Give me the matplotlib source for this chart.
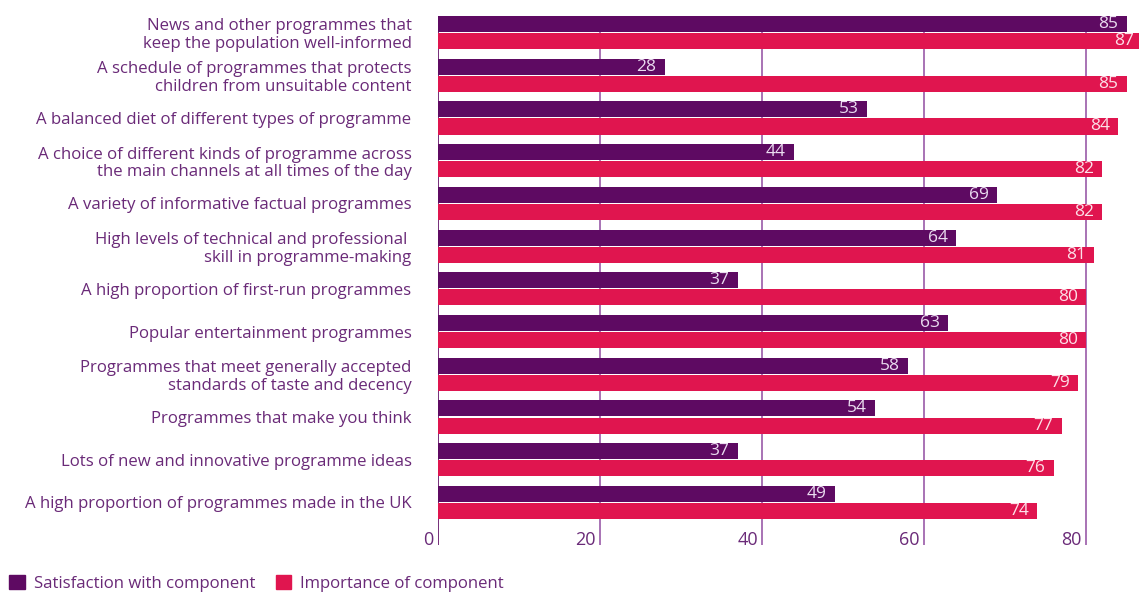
import numpy as np
import matplotlib.pyplot as plt
from matplotlib.patches import Patch

plt.rcParams['font.family'] = ['Open Sans', 'DejaVu Sans']

categories = [
    "News and other programmes that\nkeep the population well-informed",
    "A schedule of programmes that protects\nchildren from unsuitable content",
    "A balanced diet of different types of programme",
    "A choice of different kinds of programme across\nthe main channels at all times of the day",
    "A variety of informative factual programmes",
    "High levels of technical and professional \nskill in programme-making",
    "A high proportion of first-run programmes",
    "Popular entertainment programmes",
    "Programmes that meet generally accepted\nstandards of taste and decency",
    "Programmes that make you think",
    "Lots of new and innovative programme ideas",
    "A high proportion of programmes made in the UK",
]
satisfaction = [85, 28, 53, 44, 69, 64, 37, 63, 58, 54, 37, 49]
importance = [87, 85, 84, 82, 82, 81, 80, 80, 79, 77, 76, 74]
xticks = [0, 20, 40, 60, 80]

PURPLE = '#5e0a62'
PINK = '#e0154f'
TEXT = '#6a2a78'

W, H = 1139, 593
fig = plt.figure(figsize=(W / 100, H / 100), dpi=100)
ax = fig.add_axes([438 / W, 1 - 545 / H, 1 - 438 / W, (545 - 16) / H])

y = np.arange(len(categories))
h = 0.375
ax.barh(y - 0.2, satisfaction, height=h, color=PURPLE, zorder=2)
ax.barh(y + 0.2, importance, height=h, color=PINK, zorder=2)

for yi, v in zip(y, satisfaction):
    ax.annotate(str(v), (v, yi - 0.2), xytext=(-6, 0), textcoords='offset points',
                ha='right', va='center', color='#eadcf0', fontsize=12.5, zorder=3,
                annotation_clip=False)
for yi, v in zip(y, importance):
    ax.annotate(str(v), (v, yi + 0.2), xytext=(-6, 0), textcoords='offset points',
                ha='right', va='center', color='#fde0e8', fontsize=12.5, zorder=3,
                annotation_clip=False)

for t in xticks:
    ax.axvline(t, color='#9a5aa8' if t else PURPLE, lw=1.2, zorder=1)
    ax.annotate(str(t), (t, 0), xycoords=ax.get_xaxis_transform(), xytext=(-3, -3),
                textcoords='offset points', ha='right', va='bottom', color=TEXT, fontsize=13)

ax.set_xlim(0, (W - 438) / 8.1)
ax.set_ylim(11.995, -0.386)
ax.set_yticks(y)
ax.set_yticklabels(categories, color=TEXT, fontsize=12.1, linespacing=1.12)
ax.tick_params(axis='y', length=0, pad=19)
ax.set_xticks([])
for s in ax.spines.values():
    s.set_visible(False)

handles = [Patch(color=PURPLE, label='Satisfaction with component'),
           Patch(color=PINK, label='Importance of component')]
fig.legend(handles=handles, loc='lower left', bbox_to_anchor=(-0.002, -0.018), ncol=2,
           frameon=False, handlelength=0.9, handleheight=0.9, handletextpad=0.55,
           columnspacing=1.2, labelcolor=TEXT, fontsize=12.1, borderaxespad=0.3)

fig.savefig('out.png', dpi=100)
